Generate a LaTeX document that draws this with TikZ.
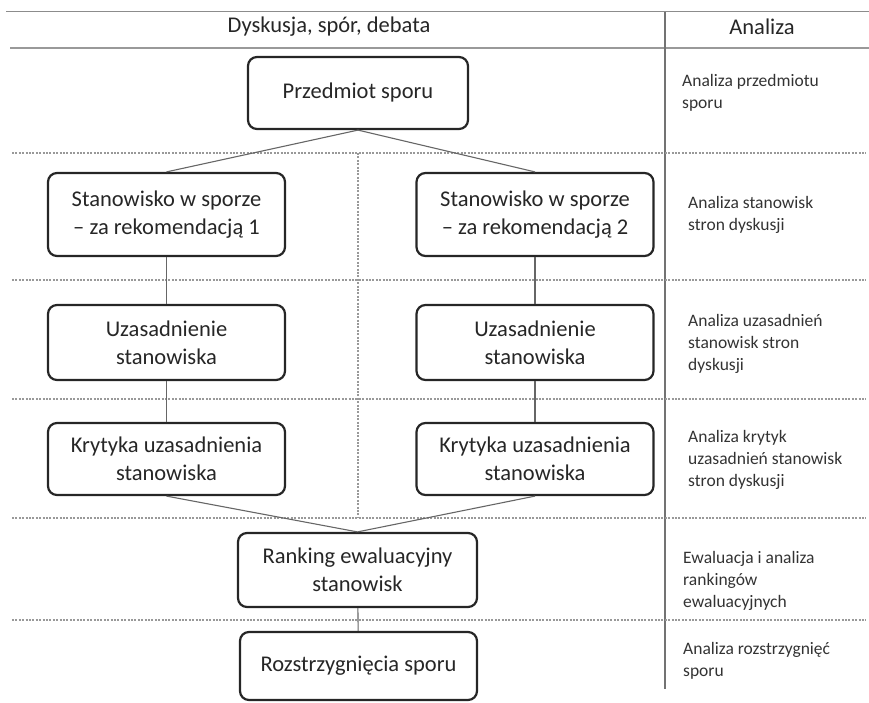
\documentclass[tikz,border=0pt]{standalone}
\usepackage{fontspec}
\setmainfont{Carlito}
\usetikzlibrary{positioning}

\tikzset{
  stage/.style={draw=black!85, line width=2.2pt, rounded corners=9pt, align=center,
    inner sep=0pt, text=black!85, font=\fontsize{22.5}{28}\selectfont},
  link/.style={draw=black!60, line width=1.1pt},
  sep/.style={draw=black!40, line width=1.5pt, dash pattern=on 2pt off 1.4pt},
  note/.style={anchor=west, align=left, inner sep=0pt, text=black!80,
    font=\fontsize{17.5}{22}\selectfont},
}

\begin{document}
\begin{tikzpicture}[x=1pt, y=-1pt]
        \useasboundingbox (0,0) rectangle (869,703);

        % naglowek tabeli
        \draw[draw=black!45, line width=1pt] (6,12) -- (869,12);
        \draw[draw=black!40, line width=2.8pt] (10,48) -- (869,48);
        \draw[draw=black!55, line width=1.6pt] (665,12) -- (665,689);
        \node[font=\fontsize{22.5}{28}\selectfont, text=black!85] (hleft) at (329,27) {Dyskusja, spór, debata};
        \node[font=\fontsize{22.5}{28}\selectfont, text=black!85] (hright) at (762,27) {Analiza};

        \foreach \y in {153,280,399,518,620}
            \draw[sep] (12,\y) -- (866,\y);

        \coordinate (M1) at (358,153);
        \coordinate (M2) at (358,518);
        \draw[sep] (M1) -- (M2);

        \node[stage, minimum width=220pt, minimum height=72pt] (P) at (358,93) {Przedmiot sporu};

        \node[stage, minimum width=237pt, minimum height=83pt] (S1) at (166.5,214.5) {Stanowisko w sporze\\ -- za rekomendacją 1};
        \node[stage, minimum width=237pt, minimum height=83pt] (S2) at (535,214.5) {Stanowisko w sporze\\ -- za rekomendacją 2};

        \node[stage, minimum width=237pt, minimum height=75pt] (U1) at (166.5,342.5) {Uzasadnienie\\ stanowiska};
        \node[stage, minimum width=237pt, minimum height=75pt] (U2) at (535,342.5) {Uzasadnienie\\ stanowiska};

        \node[stage, minimum width=237pt, minimum height=72pt] (K1) at (166.5,459) {Krytyka uzasadnienia\\ stanowiska};
        \node[stage, minimum width=237pt, minimum height=72pt] (K2) at (535,459) {Krytyka uzasadnienia\\ stanowiska};

        \node[stage, minimum width=239pt, minimum height=74pt] (R) at (357.5,570) {Ranking ewaluacyjny\\ stanowisk};
        \node[stage, minimum width=237pt, minimum height=68pt] (Z) at (358.5,666) {Rozstrzygnięcia sporu};

        \draw[link] (P.south) -- (S1.north);
        \draw[link] (P.south) -- (S2.north);
        \draw[link] (S1) -- (U1);
        \draw[link] (S2) -- (U2);
        \draw[link] (U1) -- (K1);
        \draw[link] (U2) -- (K2);
        \draw[link] (K1.south) -- (R.north);
        \draw[link] (K2.south) -- (R.north);
        \draw[link] (R) -- (Z);

        % kolumna analizy
        \node[note] (A1) at (682,93) {Analiza przedmiotu\\ sporu};
        \node[note] (A2) at (688,214.5) {Analiza stanowisk\\ stron dyskusji};
        \node[note] (A3) at (688,344) {Analiza uzasadnień\\ stanowisk stron\\ dyskusji};
        \node[note] (A4) at (688,459.5) {Analiza krytyk\\ uzasadnień stanowisk\\ stron dyskusji};
        \node[note] (A5) at (683,580.5) {Ewaluacja i analiza\\ rankingów\\ ewaluacyjnych};
        \node[note] (A6) at (683,661) {Analiza rozstrzygnięć\\ sporu};

    \end{tikzpicture}
\end{document}
